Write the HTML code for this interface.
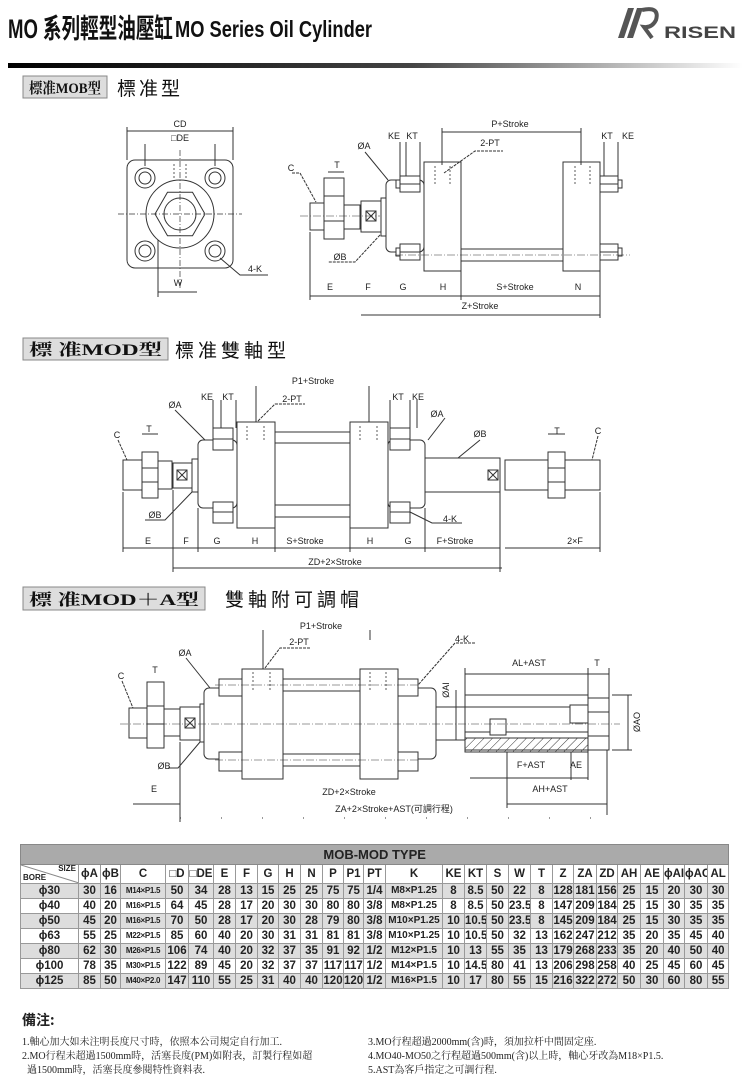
<!DOCTYPE html>
<html><head><meta charset="utf-8">
<style>
html,body{margin:0;padding:0;background:#fff;}
#wrap{position:relative;width:750px;height:1082px;overflow:hidden;}
svg{position:absolute;left:0;top:0;}
table{position:absolute;left:20px;top:844px;border-collapse:collapse;table-layout:fixed;width:708px;font-family:"Liberation Sans",sans-serif;font-weight:bold;font-size:11.5px;color:#222;}
td{border:1px solid #999;text-align:center;padding:0;height:14px;line-height:14px;white-space:nowrap;overflow:hidden;}
tr.t td{background:#aaa;height:19px;font-size:13px;text-align:center;border-color:#888;}
tr.h td{height:18px;background:#fff;}
tr.g td{background:#ddd;}
td.c{font-size:8px;letter-spacing:-0.3px;}
td.k{font-size:10px;}
.notes{position:absolute;font-family:"Liberation Serif","Noto Serif CJK SC","Noto Sans CJK TC",serif;font-size:10px;color:#222;line-height:14px;}
</style></head><body><div id="wrap">
<svg width="750" height="1082" viewBox="0 0 750 1082" font-family="Liberation Sans, sans-serif" fill="none" stroke="#333" stroke-width="1">
<defs>
<linearGradient id="hl" x1="0" x2="1" y1="0" y2="0"><stop offset="0" stop-color="#000"/><stop offset="0.55" stop-color="#444"/><stop offset="1" stop-color="#fff"/></linearGradient>
<pattern id="hatch" width="6" height="6" patternUnits="userSpaceOnUse" patternTransform="rotate(45)"><line x1="0" y1="0" x2="0" y2="6" stroke="#333" stroke-width="1"/></pattern>
</defs>
<!-- header -->
<text x="8" y="38" font-size="27" font-weight="bold" fill="#111" stroke="none" font-family="Liberation Sans, Noto Sans CJK TC, sans-serif" textLength="165" lengthAdjust="spacingAndGlyphs">MO 系列輕型油壓缸</text>
<text x="175" y="37" font-size="23" font-weight="bold" fill="#111" stroke="none" font-family="Liberation Sans, sans-serif" textLength="197" lengthAdjust="spacingAndGlyphs">MO Series Oil Cylinder</text>
<path d="M618 38 L628 8 L634 8 L624 38 Z M627 38 L637 8 L643 8 L633 38Z" fill="#555" stroke="none"/>
<path d="M642 10 Q660 6 656 20 Q652 28 644 27 L652 38" stroke="#555" stroke-width="4"/>
<text x="664" y="38" font-size="17" font-weight="bold" fill="#444" stroke="none" textLength="72" lengthAdjust="spacingAndGlyphs">RISEN</text>
<rect x="8" y="63" width="735" height="5" fill="url(#hl)" stroke="none"/>
<!-- tags -->
<g font-family="Liberation Serif, Noto Serif CJK SC, serif" font-weight="bold" fill="#111" stroke="none">
<rect x="23" y="76" width="84" height="22" fill="#ddd" stroke="#888"/>
<text x="29" y="93" font-size="15" textLength="72" lengthAdjust="spacingAndGlyphs">標准MOB型</text>
<text x="117" y="95" font-size="19" font-family="Noto Sans CJK TC, sans-serif" font-weight="normal" letter-spacing="3">標准型</text>
<rect x="23" y="338" width="145" height="22" fill="#ddd" stroke="#888"/>
<text x="29" y="355" font-size="16" textLength="133" lengthAdjust="spacingAndGlyphs">標 准MOD型</text>
<text x="175" y="357" font-size="19" font-family="Noto Sans CJK TC, sans-serif" font-weight="normal" letter-spacing="4">標准雙軸型</text>
<rect x="23" y="587" width="182" height="23" fill="#ddd" stroke="#888"/>
<text x="29" y="605" font-size="16" textLength="170" lengthAdjust="spacingAndGlyphs">標 准MOD＋A型</text>
<text x="225" y="606" font-size="19" font-family="Noto Sans CJK TC, sans-serif" font-weight="normal" letter-spacing="4">雙軸附可調帽</text>
</g>

<!-- ========== DRAWING 1 ========== -->
<g>
<rect x="127" y="160" width="106" height="108" rx="8" fill="#fff"/>
<circle cx="180" cy="214" r="34"/>
<polygon points="205,214 192.5,235.7 167.5,235.7 155,214 167.5,192.3 192.5,192.3" fill="#fff"/>
<circle cx="180" cy="214" r="16"/>
<circle cx="145" cy="178" r="10"/><circle cx="145" cy="178" r="6"/>
<circle cx="215" cy="178" r="10"/><circle cx="215" cy="178" r="6"/>
<circle cx="145" cy="251" r="10"/><circle cx="145" cy="251" r="6"/>
<circle cx="215" cy="251" r="10"/><circle cx="215" cy="251" r="6"/>
<g stroke-dasharray="6,2,1,2" stroke-width="0.7"><line x1="118" y1="214" x2="242" y2="214"/><line x1="180" y1="150" x2="180" y2="290"/></g>
<g stroke-dasharray="2,2" stroke-width="0.8"><line x1="174" y1="164" x2="174" y2="180"/><line x1="186" y1="164" x2="186" y2="180"/></g>
<line x1="127" y1="131" x2="233" y2="131"/><line x1="127" y1="127" x2="127" y2="160"/><line x1="233" y1="127" x2="233" y2="160"/>
<line x1="145" y1="144" x2="145" y2="166"/><line x1="215" y1="144" x2="215" y2="166"/>
<line x1="158" y1="240" x2="158" y2="297"/><line x1="158" y1="292" x2="197" y2="292"/>
<polyline points="220,258 240,275 268,275"/>
</g>
<g fill="#222" stroke="none" font-size="9">
<text x="180" y="127" text-anchor="middle">CD</text>
<text x="180" y="141" text-anchor="middle">□DE</text>
<text x="178" y="286" text-anchor="middle">W</text>
<text x="255" y="272" text-anchor="middle">4-K</text>
</g>
<g fill="#fff">
<rect x="310" y="203" width="20" height="27"/>
<rect x="324" y="178" width="20" height="61"/>
<rect x="344" y="205" width="16" height="24"/>
<rect x="361" y="201" width="20" height="31"/>
<rect x="381" y="198" width="5" height="38"/>
<rect x="386" y="180" width="38" height="72" rx="5"/>
<rect x="400" y="176" width="20" height="16"/><rect x="396" y="180" width="4" height="8"/>
<rect x="400" y="244" width="20" height="16"/><rect x="396" y="248" width="4" height="8"/>
<rect x="424" y="162" width="37" height="109"/>
<rect x="461" y="249" width="102" height="12"/>
<rect x="563" y="162" width="37" height="109"/>
<rect x="600" y="176" width="18" height="16"/><rect x="618" y="180" width="4" height="8"/>
<rect x="600" y="244" width="18" height="16"/><rect x="618" y="248" width="4" height="8"/>
</g>
<g>
<line x1="324" y1="196" x2="344" y2="196"/><line x1="324" y1="221" x2="344" y2="221"/>
<rect x="366" y="211" width="10" height="10"/><path d="M366 211 L376 221 M376 211 L366 221"/>
<line x1="400" y1="184" x2="420" y2="184"/><line x1="400" y1="252" x2="420" y2="252"/>
<line x1="600" y1="184" x2="618" y2="184"/><line x1="600" y1="252" x2="618" y2="252"/>
<g stroke-dasharray="2,2" stroke-width="0.8"><line x1="435" y1="166" x2="435" y2="185"/><line x1="450" y1="166" x2="450" y2="185"/><line x1="575" y1="166" x2="575" y2="185"/><line x1="590" y1="166" x2="590" y2="185"/></g>
<g stroke-dasharray="8,2,1,2" stroke-width="0.6"><line x1="300" y1="216" x2="380" y2="216"/><line x1="395" y1="255" x2="630" y2="255"/></g>
<line x1="310" y1="232" x2="310" y2="300"/><line x1="600" y1="271" x2="600" y2="318"/><line x1="461" y1="271" x2="461" y2="300"/>
<line x1="310" y1="296" x2="600" y2="296"/>
<line x1="361" y1="315" x2="600" y2="315"/>
<line x1="442" y1="132" x2="581" y2="132"/><line x1="442" y1="128" x2="442" y2="165"/><line x1="581" y1="128" x2="581" y2="165"/>
<line x1="400" y1="142" x2="400" y2="176"/><line x1="406" y1="142" x2="406" y2="176"/><line x1="420" y1="142" x2="420" y2="176"/>
<line x1="604" y1="142" x2="604" y2="176"/><line x1="618" y1="142" x2="618" y2="176"/>
<polyline points="444,173 475,151 503,151" stroke-dasharray="3,1"/>
<polyline points="365,152 388,180"/>
<polyline points="292,173 300,173 316,202" stroke-dasharray="3,1"/>
<polyline points="380,235 355,262 328,262" stroke-dasharray="3,1"/>
<line x1="328" y1="172" x2="344" y2="172"/>
</g>
<g fill="#222" stroke="none" font-size="9" text-anchor="middle">
<text x="291" y="171">C</text><text x="337" y="168">T</text><text x="364" y="149">ØA</text>
<text x="394" y="139">KE</text><text x="412" y="139">KT</text>
<text x="510" y="127">P+Stroke</text><text x="490" y="146">2-PT</text>
<text x="607" y="139">KT</text><text x="628" y="139">KE</text>
<text x="340" y="260">ØB</text>
<text x="330" y="290">E</text><text x="368" y="290">F</text><text x="403" y="290">G</text><text x="443" y="290">H</text><text x="515" y="290">S+Stroke</text><text x="578" y="290">N</text>
<text x="480" y="309">Z+Stroke</text>
</g>

<!-- ========== DRAWING 2 ========== -->
<g fill="#fff">
<rect x="123" y="460" width="19" height="30"/>
<rect x="142" y="452" width="16" height="46"/>
<rect x="158" y="461" width="14" height="28"/>
<rect x="173" y="463" width="19" height="25"/>
<rect x="192" y="459" width="6" height="33"/>
<rect x="198" y="440" width="39" height="68" rx="5"/>
<rect x="213" y="428" width="20" height="22"/><rect x="213" y="502" width="20" height="21"/>
<rect x="237" y="422" width="38" height="106"/>
<rect x="275" y="432" width="75" height="11"/><rect x="275" y="505" width="75" height="12"/>
<rect x="350" y="422" width="38" height="106"/>
<rect x="388" y="440" width="37" height="68" rx="5"/>
<rect x="390" y="428" width="20" height="22"/><rect x="390" y="502" width="20" height="21"/>
<rect x="425" y="458" width="75" height="34"/>
<rect x="505" y="460" width="95" height="30"/>
<rect x="548" y="452" width="17" height="46"/>
</g>
<g>
<line x1="142" y1="468" x2="158" y2="468"/><line x1="142" y1="482" x2="158" y2="482"/>
<line x1="548" y1="468" x2="565" y2="468"/><line x1="548" y1="482" x2="565" y2="482"/>
<rect x="177" y="470" width="10" height="10"/><path d="M177 470 L187 480 M187 470 L177 480"/>
<rect x="488" y="470" width="10" height="10"/><path d="M488 470 L498 480 M498 470 L488 480"/>
<line x1="213" y1="439" x2="233" y2="439"/><line x1="213" y1="512" x2="233" y2="512"/>
<line x1="390" y1="439" x2="410" y2="439"/><line x1="390" y1="512" x2="410" y2="512"/>
<g stroke-dasharray="2,2" stroke-width="0.8"><line x1="247" y1="426" x2="247" y2="442"/><line x1="264" y1="426" x2="264" y2="442"/><line x1="360" y1="426" x2="360" y2="442"/><line x1="377" y1="426" x2="377" y2="442"/></g>
<line x1="123" y1="492" x2="123" y2="552"/><line x1="198" y1="508" x2="198" y2="552"/><line x1="275" y1="528" x2="275" y2="552"/><line x1="350" y1="528" x2="350" y2="552"/><line x1="425" y1="508" x2="425" y2="552"/><line x1="500" y1="492" x2="500" y2="572"/><line x1="600" y1="492" x2="600" y2="552"/><line x1="173" y1="490" x2="173" y2="572"/>
<line x1="123" y1="548" x2="500" y2="548"/><line x1="505" y1="548" x2="600" y2="548"/>
<line x1="173" y1="568" x2="502" y2="568"/>
<line x1="256" y1="386" x2="256" y2="422"/><line x1="369" y1="386" x2="369" y2="422"/>
<line x1="213" y1="400" x2="213" y2="428"/><line x1="221" y1="400" x2="221" y2="428"/><line x1="236" y1="400" x2="236" y2="428"/>
<line x1="390" y1="400" x2="390" y2="428"/><line x1="410" y1="400" x2="410" y2="428"/><line x1="417" y1="400" x2="417" y2="428"/>
<polyline points="258,421 275,404 305,404" stroke-dasharray="3,1"/>
<polyline points="175,410 205,440"/><polyline points="445,418 428,440"/>
<polyline points="118,440 127,460" stroke-dasharray="3,1"/>
<polyline points="480,440 458,458"/>
<polyline points="598,436 592,460" stroke-dasharray="3,1"/>
<polyline points="192,492 165,520 145,520"/>
<polyline points="410,512 432,523 462,523"/>
<line x1="142" y1="434" x2="158" y2="434"/><line x1="548" y1="434" x2="565" y2="434"/>
</g>
<g fill="#222" stroke="none" font-size="9" text-anchor="middle">
<text x="313" y="384">P1+Stroke</text>
<text x="207" y="400">KE</text><text x="228" y="400">KT</text><text x="292" y="402">2-PT</text>
<text x="398" y="400">KT</text><text x="418" y="400">KE</text>
<text x="175" y="408">ØA</text><text x="437" y="417">ØA</text>
<text x="117" y="438">C</text><text x="149" y="432">T</text>
<text x="480" y="437">ØB</text><text x="557" y="434">T</text><text x="598" y="434">C</text>
<text x="155" y="518">ØB</text><text x="450" y="522">4-K</text>
<text x="148" y="544">E</text><text x="186" y="544">F</text><text x="217" y="544">G</text><text x="255" y="544">H</text><text x="305" y="544">S+Stroke</text><text x="370" y="544">H</text><text x="408" y="544">G</text><text x="455" y="544">F+Stroke</text><text x="575" y="544">2×F</text>
<text x="335" y="565">ZD+2×Stroke</text>
</g>

<!-- ========== DRAWING 3 ========== -->
<g fill="#fff">
<rect x="129" y="708" width="18" height="30"/>
<rect x="147" y="682" width="17" height="66"/>
<rect x="164" y="709" width="16" height="27"/>
<rect x="180" y="707" width="20" height="33"/>
<rect x="200" y="704" width="5" height="38"/>
<rect x="204" y="688" width="38" height="71" rx="5"/>
<rect x="219" y="679" width="23" height="17"/><rect x="219" y="752" width="23" height="19"/>
<rect x="242" y="669" width="41" height="110"/>
<rect x="283" y="679" width="77" height="12"/><rect x="283" y="754" width="77" height="12"/>
<rect x="360" y="669" width="38" height="110"/>
<rect x="398" y="688" width="38" height="71" rx="5"/>
<rect x="398" y="679" width="20" height="17"/><rect x="398" y="752" width="20" height="19"/>
<rect x="436" y="707" width="29" height="33"/>
<rect x="465" y="695" width="123" height="55"/>
<rect x="588" y="698" width="21" height="52"/>
</g>
<g>
<rect x="465" y="738" width="123" height="14" fill="url(#hatch)"/>
<rect x="465" y="707" width="123" height="25" fill="#fff"/>
<rect x="490" y="719" width="16" height="16" fill="#fff"/>
<rect x="570" y="705" width="18" height="18" fill="#fff"/>
<line x1="588" y1="712" x2="609" y2="712"/><line x1="588" y1="736" x2="609" y2="736"/>
<line x1="147" y1="706" x2="164" y2="706"/><line x1="147" y1="724" x2="164" y2="724"/>
<rect x="185" y="718" width="10" height="10"/><path d="M185 718 L195 728 M195 718 L185 728"/>
<g stroke-dasharray="2,2" stroke-width="0.8"><line x1="253" y1="672" x2="253" y2="690"/><line x1="270" y1="672" x2="270" y2="690"/><line x1="370" y1="672" x2="370" y2="690"/><line x1="386" y1="672" x2="386" y2="690"/></g>
<g stroke-dasharray="8,2,1,2" stroke-width="0.6"><line x1="120" y1="724" x2="620" y2="724"/><line x1="215" y1="685" x2="420" y2="685"/><line x1="215" y1="760" x2="420" y2="760"/></g>
<line x1="263" y1="630" x2="263" y2="669"/><line x1="370" y1="630" x2="370" y2="640"/>
<polyline points="265,668 280,648 310,648" stroke-dasharray="3,1"/>
<polyline points="186,658 210,688"/>
<polyline points="122,681 133,708" stroke-dasharray="3,1"/>
<polyline points="200,742 178,768 168,768"/>
<polyline points="475,643 455,643 418,685" stroke-dasharray="3,1"/>
<line x1="456" y1="690" x2="456" y2="740"/>
<line x1="465" y1="674" x2="588" y2="674"/><line x1="588" y1="674" x2="609" y2="674"/>
<line x1="465" y1="668" x2="465" y2="695"/><line x1="588" y1="668" x2="588" y2="698"/><line x1="609" y1="668" x2="609" y2="698"/>
<line x1="612" y1="695" x2="632" y2="695"/><line x1="612" y1="750" x2="632" y2="750"/><line x1="628" y1="695" x2="628" y2="750"/>
<line x1="507" y1="752" x2="507" y2="808"/><line x1="571" y1="752" x2="571" y2="780"/><line x1="588" y1="752" x2="588" y2="780"/>
<line x1="470" y1="778" x2="588" y2="778"/>
<line x1="507" y1="804" x2="607" y2="804"/><line x1="607" y1="750" x2="607" y2="815"/>
<line x1="133" y1="804" x2="180" y2="804"/><line x1="180" y1="742" x2="180" y2="822"/>
<line x1="180" y1="818" x2="607" y2="818" stroke-dasharray="1,40"/>
</g>
<g fill="#222" stroke="none" font-size="9" text-anchor="middle">
<text x="321" y="629">P1+Stroke</text><text x="299" y="645">2-PT</text><text x="462" y="642">4-K</text>
<text x="185" y="656">ØA</text><text x="121" y="679">C</text><text x="155" y="673">T</text>
<text x="529" y="666">AL+AST</text><text x="597" y="666">T</text>
<text x="449" y="690" transform="rotate(-90 449 690)">ØAI</text>
<text x="640" y="722" transform="rotate(-90 640 722)">ØAO</text>
<text x="164" y="769">ØB</text>
<text x="531" y="768">F+AST</text><text x="576" y="768">AE</text>
<text x="154" y="792">E</text><text x="550" y="792">AH+AST</text>
<text x="349" y="795">ZD+2×Stroke</text>
<text x="394" y="812" font-family="Liberation Sans, Noto Sans CJK TC, sans-serif">ZA+2×Stroke+AST(可調行程)</text>
</g>
</svg>

<table>
<colgroup><col style="width:58px"><col style="width:22px"><col style="width:20px"><col style="width:45px"><col style="width:23px"><col style="width:25px"><col style="width:22px"><col style="width:22px"><col style="width:21px"><col style="width:22px"><col style="width:22px"><col style="width:21px"><col style="width:20px"><col style="width:22px"><col style="width:57px"><col style="width:22px"><col style="width:22px"><col style="width:22px"><col style="width:22px"><col style="width:22px"><col style="width:21px"><col style="width:23px"><col style="width:21px"><col style="width:23px"><col style="width:23px"><col style="width:21px"><col style="width:23px"><col style="width:21px"></colgroup>
<tr class="t"><td colspan="28">MOB-MOD TYPE</td></tr>
<tr class="h"><td style="position:relative;font-size:8px;"><svg width="58" height="18" style="position:absolute;left:0;top:0"><line x1="0" y1="0" x2="58" y2="18" stroke="#888"/></svg><span style="position:absolute;right:2px;top:-3px">SIZE</span><span style="position:absolute;left:2px;top:6px">BORE</span></td><td>ϕA</td><td>ϕB</td><td>C</td><td>□D</td><td>□DE</td><td>E</td><td>F</td><td>G</td><td>H</td><td>N</td><td>P</td><td>P1</td><td>PT</td><td>K</td><td>KE</td><td>KT</td><td>S</td><td>W</td><td>T</td><td>Z</td><td>ZA</td><td>ZD</td><td>AH</td><td>AE</td><td>ϕAI</td><td>ϕAO</td><td>AL</td></tr>
<tr class="g"><td>ϕ30</td><td>30</td><td>16</td><td class="c">M14×P1.5</td><td>50</td><td>34</td><td>28</td><td>13</td><td>15</td><td>25</td><td>25</td><td>75</td><td>75</td><td>1/4</td><td class="k">M8×P1.25</td><td>8</td><td>8.5</td><td>50</td><td>22</td><td>8</td><td>128</td><td>181</td><td>156</td><td>25</td><td>15</td><td>20</td><td>30</td><td>30</td></tr>
<tr><td>ϕ40</td><td>40</td><td>20</td><td class="c">M16×P1.5</td><td>64</td><td>45</td><td>28</td><td>17</td><td>20</td><td>30</td><td>30</td><td>80</td><td>80</td><td>3/8</td><td class="k">M8×P1.25</td><td>8</td><td>8.5</td><td>50</td><td>23.5</td><td>8</td><td>147</td><td>209</td><td>184</td><td>25</td><td>15</td><td>30</td><td>35</td><td>35</td></tr>
<tr class="g"><td>ϕ50</td><td>45</td><td>20</td><td class="c">M16×P1.5</td><td>70</td><td>50</td><td>28</td><td>17</td><td>20</td><td>30</td><td>28</td><td>79</td><td>80</td><td>3/8</td><td class="k">M10×P1.25</td><td>10</td><td>10.5</td><td>50</td><td>23.5</td><td>8</td><td>145</td><td>209</td><td>184</td><td>25</td><td>15</td><td>30</td><td>35</td><td>35</td></tr>
<tr><td>ϕ63</td><td>55</td><td>25</td><td class="c">M22×P1.5</td><td>85</td><td>60</td><td>40</td><td>20</td><td>30</td><td>31</td><td>31</td><td>81</td><td>81</td><td>3/8</td><td class="k">M10×P1.25</td><td>10</td><td>10.5</td><td>50</td><td>32</td><td>13</td><td>162</td><td>247</td><td>212</td><td>35</td><td>20</td><td>35</td><td>45</td><td>40</td></tr>
<tr class="g"><td>ϕ80</td><td>62</td><td>30</td><td class="c">M26×P1.5</td><td>106</td><td>74</td><td>40</td><td>20</td><td>32</td><td>37</td><td>35</td><td>91</td><td>92</td><td>1/2</td><td class="k">M12×P1.5</td><td>10</td><td>13</td><td>55</td><td>35</td><td>13</td><td>179</td><td>268</td><td>233</td><td>35</td><td>20</td><td>40</td><td>50</td><td>40</td></tr>
<tr><td>ϕ100</td><td>78</td><td>35</td><td class="c">M30×P1.5</td><td>122</td><td>89</td><td>45</td><td>20</td><td>32</td><td>37</td><td>37</td><td>117</td><td>117</td><td>1/2</td><td class="k">M14×P1.5</td><td>10</td><td>14.5</td><td>80</td><td>41</td><td>13</td><td>206</td><td>298</td><td>258</td><td>40</td><td>25</td><td>45</td><td>60</td><td>45</td></tr>
<tr class="g"><td>ϕ125</td><td>85</td><td>50</td><td class="c">M40×P2.0</td><td>147</td><td>110</td><td>55</td><td>25</td><td>31</td><td>40</td><td>40</td><td>120</td><td>120</td><td>1/2</td><td class="k">M16×P1.5</td><td>10</td><td>17</td><td>80</td><td>55</td><td>15</td><td>216</td><td>322</td><td>272</td><td>50</td><td>30</td><td>60</td><td>80</td><td>55</td></tr>
</table>

<div class="notes" style="left:22px;top:1013px;font-size:14px;font-weight:bold;font-family:'Noto Sans CJK TC',sans-serif;">備注:</div>
<div class="notes" style="left:22px;top:1036px;width:340px;">1.軸心加大如未注明長度尺寸時，依照本公司規定自行加工.<br>2.MO行程未超過1500mm時，活塞長度(PM)如附表，訂製行程如超<br>&nbsp;&nbsp;過1500mm時，活塞長度參閱特性資料表.</div>
<div class="notes" style="left:368px;top:1036px;width:380px;">3.MO行程超過2000mm(含)時，須加拉杆中間固定座.<br>4.MO40-MO50之行程超過500mm(含)以上時，軸心牙改為M18×P1.5.<br>5.AST為客戶指定之可調行程.</div>
</div></body></html>
